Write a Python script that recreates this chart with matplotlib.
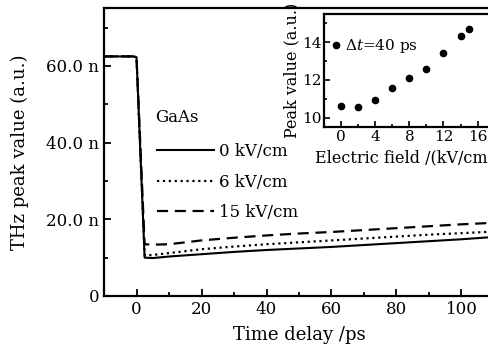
import numpy as np
import matplotlib.pyplot as plt
from matplotlib.ticker import MultipleLocator, FixedLocator

plt.rcParams['font.family'] = 'DejaVu Serif'
plt.rcParams['mathtext.fontset'] = 'dejavuserif'

# main curves: THz peak value (in units of n) vs time delay (ps)
t = [-10, -5, -1, 0, 2.5, 5, 10, 20, 30, 40, 50, 60, 70, 80, 90, 100, 110]
y_0kv = [62.5, 62.5, 62.5, 62.3, 10.0, 9.9, 10.3, 10.9, 11.5, 12.0, 12.4, 12.8, 13.3, 13.8, 14.3, 14.8, 15.4]
y_6kv = [62.5, 62.5, 62.5, 62.3, 10.6, 10.7, 11.2, 12.2, 12.9, 13.5, 14.0, 14.5, 15.0, 15.5, 16.0, 16.4, 16.8]
y_15kv = [62.5, 62.5, 62.5, 62.3, 13.5, 13.4, 13.5, 14.5, 15.2, 15.8, 16.3, 16.7, 17.2, 17.7, 18.2, 18.7, 19.1]
labels = ['0 kV/cm', '6 kV/cm', '15 kV/cm']

# inset: peak value at dt = 40 ps vs electric field
field = [0, 2, 4, 6, 8, 10, 12, 14, 15]
peak = [10.63, 10.56, 10.93, 11.6, 12.09, 12.58, 13.42, 14.3, 14.7]

fig = plt.figure(figsize=(4.89, 3.51), dpi=100)
ax = fig.add_axes([0.2127, 0.1567, 0.7975, 0.8191])

ax.plot(t, y_0kv, '-', color='black', lw=1.5, label=labels[0])
ax.plot(t, y_6kv, ':', color='black', lw=1.6, label=labels[1])
ax.plot(t, y_15kv, '--', color='black', lw=1.6, dashes=(5, 3), label=labels[2])

ax.set_xlim(-10, 110)
ax.set_ylim(0, 75)
ax.xaxis.set_major_locator(FixedLocator([0, 20, 40, 60, 80, 100]))
ax.xaxis.set_minor_locator(MultipleLocator(10))
ax.yaxis.set_major_locator(FixedLocator([0, 20, 40, 60]))
ax.yaxis.set_minor_locator(MultipleLocator(10))
ax.set_yticklabels(['0', '20.0 n', '40.0 n', '60.0 n'])
ax.tick_params(which='both', direction='in', labelsize=12, width=1.3)
ax.tick_params(which='major', length=5)
ax.tick_params(which='minor', length=3)
for s in ax.spines.values():
    s.set_linewidth(1.6)
ax.set_xlabel('Time delay /ps', fontsize=13, labelpad=6)
ax.set_ylabel('THz peak value (a.u.)', fontsize=13, labelpad=12)

ax.text(0.13, 0.62, 'GaAs', transform=ax.transAxes, fontsize=12, va='center')
ax.legend(loc='upper left', bbox_to_anchor=(0.115, 0.56), frameon=False,
          fontsize=12, handlelength=3.4, handletextpad=0.3,
          labelspacing=0.8, borderpad=0)

# inset
ins = fig.add_axes([0.6626, 0.6368, 0.349, 0.3247])
ins.plot(field, peak, 'o', color='black', ms=4.5, label=r'$\Delta t$=40 ps')
ins.set_xlim(-2, 18)
ins.set_ylim(9.5, 15.5)
ins.xaxis.set_major_locator(FixedLocator([0, 4, 8, 12, 16]))
ins.xaxis.set_minor_locator(MultipleLocator(2))
ins.yaxis.set_major_locator(FixedLocator([10, 12, 14]))
ins.yaxis.set_minor_locator(MultipleLocator(1))
ins.tick_params(which='both', direction='in', labelsize=11, width=1.2, pad=2)
ins.tick_params(which='major', length=4)
ins.tick_params(which='minor', length=2.5)
for s in ins.spines.values():
    s.set_linewidth(1.6)
ins.set_xlabel('Electric field /(kV/cm)', fontsize=11.5)
ins.xaxis.label.set_ha('left')
ins.xaxis.set_label_coords(-0.055, -0.19)
ins.set_ylabel('Peak value (a.u.)', fontsize=11.5, labelpad=1)
ins.legend(loc='upper left', bbox_to_anchor=(0.0, 0.86), frameon=False,
           fontsize=11, handlelength=0.6, handletextpad=0.3, borderpad=0)

fig.savefig('out.png', dpi=100)
